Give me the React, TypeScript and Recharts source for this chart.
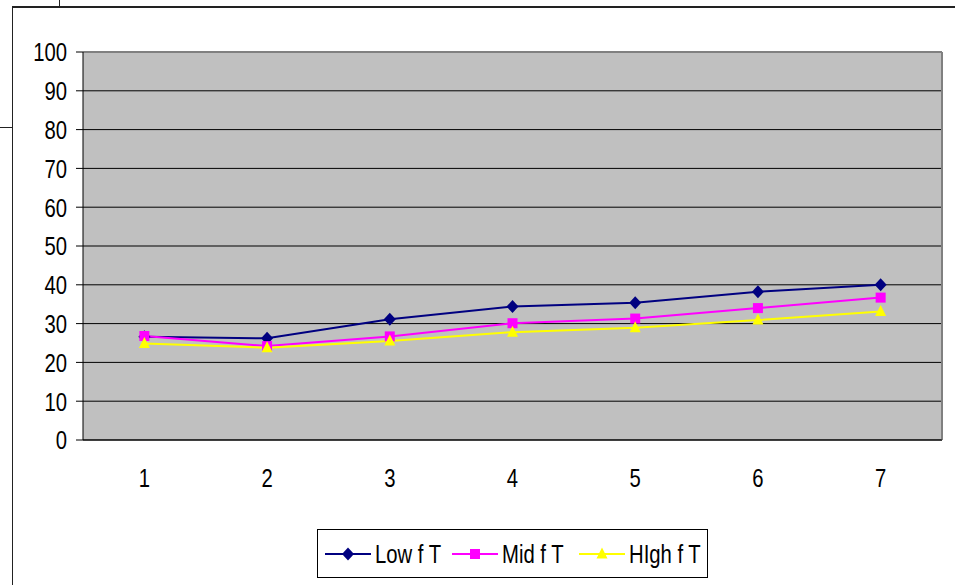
import React from "react";
import {
  LineChart,
  Line,
  XAxis,
  YAxis,
  CartesianGrid,
  ReferenceLine,
} from "recharts";

const categories = [1, 2, 3, 4, 5, 6, 7];
const lowFT = [26.6, 26.2, 31.1, 34.4, 35.4, 38.2, 40.0];
const midFT = [26.8, 24.2, 26.7, 30.1, 31.3, 34.0, 36.7];
const highFT = [24.9, 23.8, 25.5, 27.8, 28.9, 30.9, 33.1];
const yTicks = [0, 10, 20, 30, 40, 50, 60, 70, 80, 90, 100];
const seriesNames = ["Low f T", "Mid f T", "HIgh f T"];

const FONT = "'Liberation Sans', Arial, sans-serif";
const FS = 26;
const SQUEEZE = 0.78;

const data = categories.map((c, i) => ({
  x: c,
  low: lowFT[i],
  mid: midFT[i],
  high: highFT[i],
}));

const boundaryTicks = [...categories.map((c) => c - 0.5), categories[categories.length - 1] + 0.5];
const xDomain: [number, number] = [boundaryTicks[0], boundaryTicks[boundaryTicks.length - 1]];

const Diamond = ({ cx, cy, fill }: any) => (
  <path d={`M${cx},${cy - 6.5} L${cx + 6},${cy} L${cx},${cy + 6.5} L${cx - 6},${cy} Z`} fill={fill} />
);
const Square = ({ cx, cy, fill }: any) => (
  <rect x={cx - 5} y={cy - 5} width={10} height={10} fill={fill} />
);
const Triangle = ({ cx, cy, fill }: any) => (
  <path d={`M${cx},${cy - 6.5} L${cx + 5.5},${cy + 4.5} L${cx - 5.5},${cy + 4.5} Z`} fill={fill} />
);

const series = [
  { key: "low", name: seriesNames[0], color: "#000080", Marker: Diamond },
  { key: "mid", name: seriesNames[1], color: "#FF00FF", Marker: Square },
  { key: "high", name: seriesNames[2], color: "#FFFF00", Marker: Triangle },
];

const YTick = ({ x, y, payload }: any) => (
  <g transform={`translate(${x},${y}) scale(${SQUEEZE},1)`}>
    <text x={0} y={0} dy="0.36em" textAnchor="end" fill="#000" fontSize={FS} fontFamily={FONT}>
      {payload.value}
    </text>
  </g>
);

const XTick = ({ x, y, payload }: any) => (
  <g transform={`translate(${x},${y}) scale(${SQUEEZE},1)`}>
    <text x={0} y={0} dy="0.71em" textAnchor="middle" fill="#000" fontSize={FS} fontFamily={FONT}>
      {payload.value}
    </text>
  </g>
);

const line = (style: React.CSSProperties) => (
  <div style={{ position: "absolute", background: "#222", ...style }} />
);

export default function App() {
  return (
    <div style={{ position: "absolute", left: 0, top: 0, width: 955, height: 585, background: "#fff", fontFamily: FONT }}>
      {line({ left: 12, top: 7, width: 1, height: 578 })}
      {line({ left: 12, top: 6, width: 943, height: 2 })}
      {line({ left: 59, top: 0, width: 1, height: 7 })}
      {line({ left: 0, top: 127, width: 12, height: 1 })}
      <div style={{ position: "absolute", left: 0, top: 0 }}>
        <LineChart
          width={955}
          height={585}
          data={data}
          margin={{ top: 52, right: 13, left: 0, bottom: 0 }}
        >
          <CartesianGrid
            vertical={false}
            stroke="#000"
            strokeOpacity={1}
            fill="#C0C0C0"
            fillOpacity={1}
          />
          <ReferenceLine y={100} stroke="#808080" strokeWidth={2} />
          <ReferenceLine x={xDomain[1]} stroke="#808080" strokeWidth={2} />
          <XAxis
            xAxisId="bounds"
            dataKey="x"
            type="number"
            domain={xDomain}
            ticks={boundaryTicks}
            tick={false}
            tickSize={7}
            tickLine={{ stroke: "#000" }}
            axisLine={false}
            height={0}
          />
          <XAxis
            dataKey="x"
            type="number"
            domain={xDomain}
            ticks={categories}
            tickLine={false}
            tickSize={0}
            tickMargin={29}
            axisLine={{ stroke: "#000" }}
            height={145}
            tick={<XTick />}
            interval={0}
          />
          <YAxis
            domain={[0, 100]}
            ticks={yTicks}
            width={83}
            tickSize={7}
            tickMargin={9}
            interval={0}
            axisLine={{ stroke: "#000" }}
            tickLine={{ stroke: "#000" }}
            tick={<YTick />}
          />
          {series.map((s) => (
            <Line
              key={s.key}
              dataKey={s.key}
              name={s.name}
              stroke={s.color}
              strokeWidth={2}
              isAnimationActive={false}
              dot={(p: any) => <s.Marker key={`${s.key}-${p.index}`} cx={p.cx} cy={p.cy} fill={s.color} />}
              activeDot={false}
            />
          ))}
        </LineChart>
      </div>
      <div
        style={{
          position: "absolute",
          left: 317,
          top: 529,
          width: 391,
          height: 49,
          border: "1px solid #000",
          boxSizing: "border-box",
          display: "flex",
          alignItems: "center",
          paddingLeft: 7,
          background: "#fff",
        }}
      >
        {series.map((s) => (
          <div key={s.key} style={{ display: "flex", alignItems: "center" }}>
            <svg width={46} height={20} style={{ display: "block" }}>
              <line x1={0} y1={10} x2={46} y2={10} stroke={s.color} strokeWidth={2} />
              <s.Marker cx={23} cy={10} fill={s.color} />
            </svg>
            <div style={{ width: 77, marginLeft: 4, overflow: "visible" }}>
              <span
                style={{
                  display: "inline-block",
                  fontSize: FS,
                  lineHeight: "28px",
                  color: "#000",
                  whiteSpace: "nowrap",
                  transform: `scaleX(${SQUEEZE})`,
                  transformOrigin: "left center",
                }}
              >
                {s.name}
              </span>
            </div>
          </div>
        ))}
      </div>
    </div>
  );
}
